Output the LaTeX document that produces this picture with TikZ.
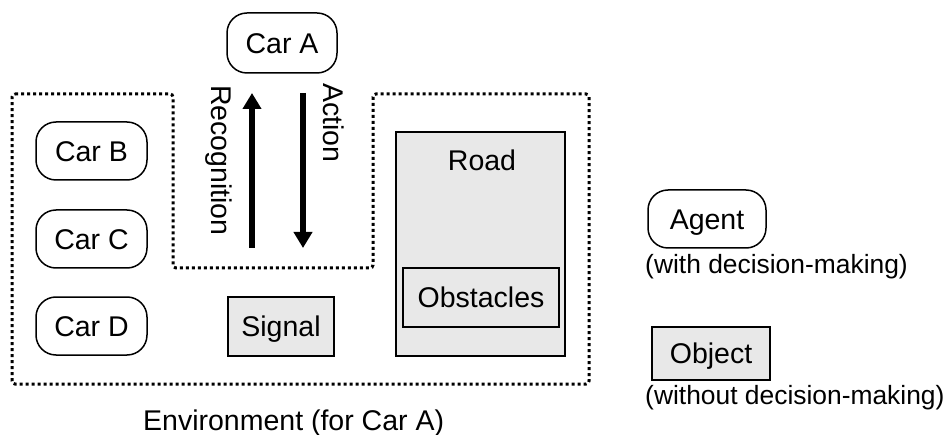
\documentclass[tikz,border=0pt]{standalone}
\usepackage{fontspec}
\setmainfont{Liberation Sans}
\usetikzlibrary{arrows.meta}
\definecolor{objfill}{HTML}{E8E8E8}

\begin{document}
\begin{tikzpicture}[x=1pt,y=-1pt,
  every node/.style={font=\fontsize{28.5}{34}\selectfont, inner sep=0pt},
  caption/.style={font=\fontsize{26.4}{32}\selectfont, anchor=base west},
  agentbox/.style={draw, line width=1.5pt, rounded corners=20pt,
    text height=20.5pt, text depth=0pt},
  objbox/.style={draw, fill=objfill, line width=1.5pt,
    text height=20.5pt, text depth=0pt},
  envline/.style={line width=3pt, dash pattern=on 3pt off 3pt, rounded corners=3pt},
  flow/.style={line width=6pt, -{Triangle[width=18pt,length=16pt]}}]

  \useasboundingbox (0,0) rectangle (949,435);

  % environment boundary with a notch around the perception/action loop
  \draw[envline] (12,94) -- (173,94) -- (173,268) -- (373,268) -- (373,94)
    -- (589,94) -- (589,384) -- (12,384) -- cycle;

  % agents
  \node[agentbox, minimum width=110pt, minimum height=60pt] (carA) at (282,43) {Car A};
  \node[agentbox, minimum width=111pt, minimum height=58pt] (carB) at (91.5,151) {Car B};
  \node[agentbox, minimum width=111pt, minimum height=58pt] (carC) at (91.5,239) {Car C};
  \node[agentbox, minimum width=111pt, minimum height=58pt] (carD) at (91.5,326) {Car D};

  % objects
  \node[objbox, minimum width=106pt, minimum height=59pt] (signal) at (281,326.5) {Signal};
  \node[objbox, minimum width=169pt, minimum height=224pt] (road) at (480.5,244) {};
  \node (roadtext) at (482,160) {Road};
  \node[objbox, minimum width=156pt, minimum height=59pt] (obst) at (481,297.5) {Obstacles};

  % recognition / action loop
  \coordinate (recTail) at (252,248);
  \coordinate (recHead) at (252,93);
  \coordinate (actTail) at (303,93);
  \coordinate (actHead) at (303,248);
  \draw[flow] (recTail) -- (recHead);
  \draw[flow] (actTail) -- (actHead);
  \node[rotate=-90, anchor=base west] (rectext) at (211,85) {Recognition};
  \node[rotate=-90, anchor=base west] (acttext) at (323,83) {Action};

  \node[anchor=base west] (envtext) at (143,430) {Environment (for Car A)};

  % legend
  \node[agentbox, minimum width=118pt, minimum height=58pt] (legAgent) at (707,219) {Agent};
  \node[caption] (legAgentText) at (645,274) {(with decision-making)};
  \node[objbox, minimum width=118pt, minimum height=53pt] (legObj) at (711,353.5) {Object};
  \node[caption] (legObjText) at (645,404) {(without decision-making)};
\end{tikzpicture}
\end{document}
